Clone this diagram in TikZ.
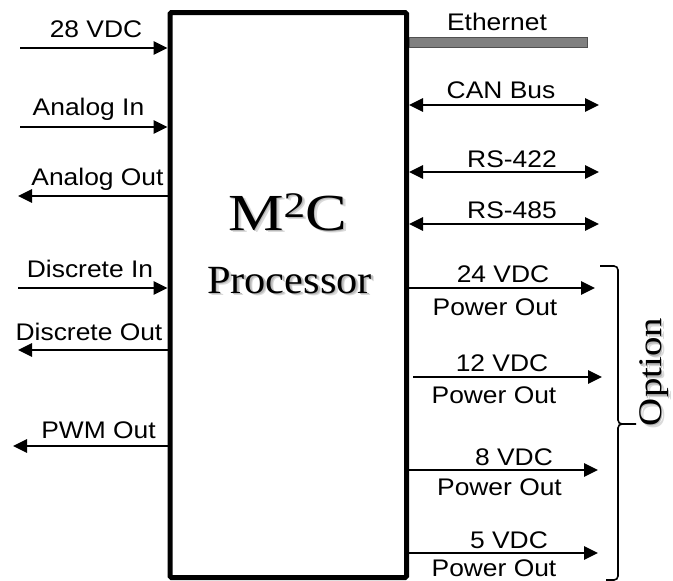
\documentclass[tikz,border=0pt]{standalone}
\usepackage{fontspec}
\setmainfont{Liberation Serif}
\setsansfont{Liberation Sans}
\usepackage{graphicx}
\usetikzlibrary{arrows.meta}
\definecolor{ethfill}{HTML}{808080}
\definecolor{ethedge}{HTML}{505050}
\definecolor{shadowa}{HTML}{B8B8B8}
\definecolor{shadowb}{HTML}{DADADA}
\newcommand\lbl[1]{\scalebox{1.1}[1]{#1}}
\newcommand\mtwoc{\scalebox{1.2}[1]{M\raisebox{13pt}{\fontsize{36}{40}\selectfont 2}C}}
\begin{document}
\begin{tikzpicture}[x=1pt,y=-1pt,
  lab/.style={font=\sffamily\fontsize{24}{28}\selectfont, inner sep=0pt, anchor=base},
  big/.style={font=\rmfamily\fontsize{52}{60}\selectfont, inner sep=0pt, anchor=base},
  proc/.style={font=\rmfamily\fontsize{40}{46}\selectfont, inner sep=0pt, anchor=base},
  opt/.style={font=\rmfamily\fontsize{33}{38}\selectfont, inner sep=0pt, rotate=90},
  wire/.style={line width=2.6pt, -{Triangle[length=14pt,width=13pt]}},
  bidir/.style={line width=2.6pt, {Triangle[length=14pt,width=13pt]}-{Triangle[length=14pt,width=13pt]}},
  brace/.style={line width=1.6pt, rounded corners=4pt},
  ethbar/.style={fill=ethfill, draw=ethedge, line width=1pt}
]
\useasboundingbox (0,0) rectangle (673,581);
% main box
\node[draw, line width=5pt, rounded corners=1.5pt, minimum width=236.5pt,
      minimum height=565pt, inner sep=0pt] (box) at (288.25,295) {};
% title with soft shadow
\node[big, text=shadowb] at (290.5,232.5) {\mtwoc};
\node[big, text=shadowa] at (289,231.5) {\mtwoc};
\node[big] (t1) at (287.5,230) {\mtwoc};
\node[proc, text=shadowb] at (292.5,295.5) {\scalebox{1.06}[1]{Processor}};
\node[proc, text=shadowa] at (291,294.5) {\scalebox{1.06}[1]{Processor}};
\node[proc] (t2) at (289.5,293) {\scalebox{1.06}[1]{Processor}};

% left side
\coordinate (a1) at (20,48);
\coordinate (a2) at (20,127);
\coordinate (a3) at (18,196);
\coordinate (a4) at (18,288);
\coordinate (a5) at (18,350);
\coordinate (a6) at (13,446);
\draw[wire] (a1) -- (a1 -| box.west);
\draw[wire] (a2) -- (a2 -| box.west);
\draw[wire] (a3 -| box.west) -- (a3);
\draw[wire] (a4) -- (a4 -| box.west);
\draw[wire] (a5 -| box.west) -- (a5);
\draw[wire] (a6 -| box.west) -- (a6);
\node[lab] (l1) at (96,37) {\lbl{28 VDC}};
\node[lab] (l2) at (88.5,115) {\lbl{Analog In}};
\node[lab] (l3) at (97.5,185) {\lbl{Analog Out}};
\node[lab] (l4) at (90,277) {\lbl{Discrete In}};
\node[lab] (l5) at (89,340) {\lbl{Discrete Out}};
\node[lab] (l6) at (98.5,438) {\lbl{PWM Out}};

% right side
\draw[ethbar] (409,37) rectangle (587,47);
\node[lab] (r0) at (497,30) {\lbl{Ethernet}};
\coordinate (b1) at (599,105);
\coordinate (b2) at (599,172);
\coordinate (b3) at (599,224);
\draw[bidir] (b1 -| box.east) -- (b1);
\draw[bidir] (b2 -| box.east) -- (b2);
\draw[bidir] (b3 -| box.east) -- (b3);
\node[lab] (r1) at (501,98) {\lbl{CAN Bus}};
\node[lab] (r2) at (512,167) {\lbl{RS-422}};
\node[lab] (r3) at (512,218) {\lbl{RS-485}};

\coordinate (p1) at (595,288);
\coordinate (p2s) at (413,377);
\coordinate (p2) at (602,377);
\coordinate (p3) at (598,470);
\coordinate (p4) at (598,553);
\draw[wire] (p1 -| box.east) -- (p1);
\draw[wire] (p2s) -- (p2);
\draw[wire] (p3 -| box.east) -- (p3);
\draw[wire] (p4 -| box.east) -- (p4);
\node[lab] (v1) at (503,282) {\lbl{24 VDC}};
\node[lab] (w1) at (495,315) {\lbl{Power Out}};
\node[lab] (v2) at (502,371) {\lbl{12 VDC}};
\node[lab] (w2) at (494,403) {\lbl{Power Out}};
\node[lab] (v3) at (514,465) {\lbl{8 VDC}};
\node[lab] (w3) at (499.5,495) {\lbl{Power Out}};
\node[lab] (v4) at (509,548) {\lbl{5 VDC}};
\node[lab] (w4) at (494,576) {\lbl{Power Out}};

% option brace
\draw[brace] (600,266) -- (618,266) -- (618,424) -- (632,424);
\draw[brace] (636,424) -- (618,424) -- (618,580) -- (606,580);
\node[opt, text=shadowb] at (657,375) {\scalebox{1.18}[1]{Option}};
\node[opt, text=shadowa] at (655.5,373.5) {\scalebox{1.18}[1]{Option}};
\node[opt] (opt) at (654,372) {\scalebox{1.18}[1]{Option}};
\end{tikzpicture}
\end{document}
